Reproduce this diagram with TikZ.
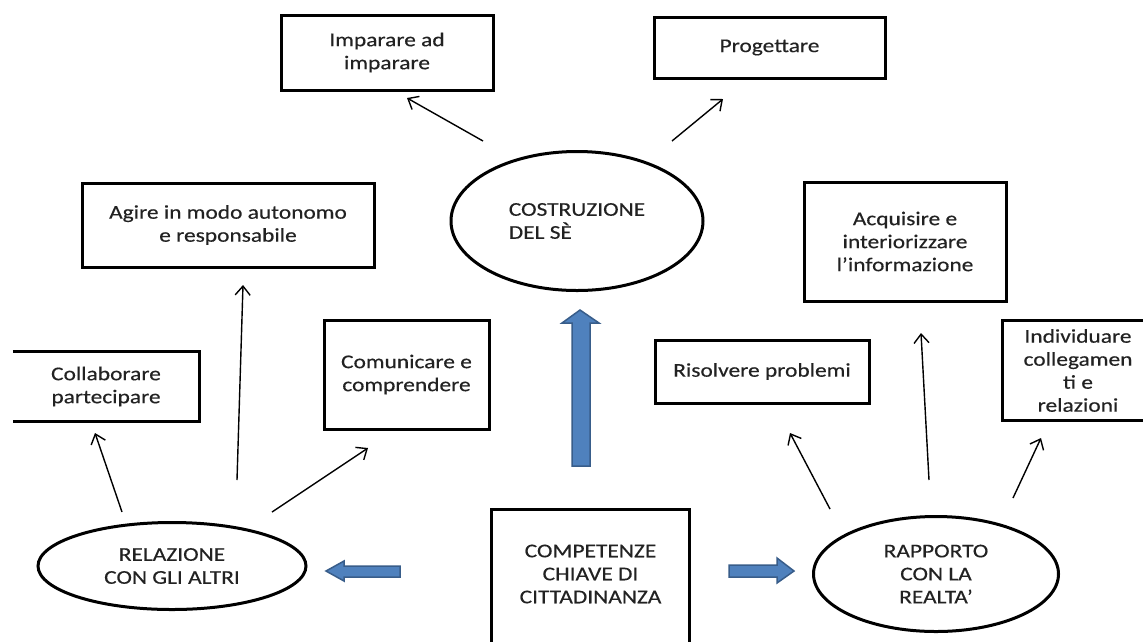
\documentclass[tikz,border=0pt]{standalone}
\usepackage{fontspec}
\setmainfont{Carlito}[FakeStretch=1.2,FakeBold=0.35]
\usetikzlibrary{arrows.meta,shapes.geometric}
\definecolor{blockfill}{HTML}{4F81BD}
\definecolor{blockline}{HTML}{385D8A}
\definecolor{ink}{HTML}{222222}
\tikzset{
  box/.style={draw=black, line width=3pt, rectangle, align=center, inner sep=0pt, text=ink},
  openbox/.style={draw=none, rectangle, align=center, inner sep=0pt, text=ink},
  oval/.style={draw=black, line width=3pt, ellipse, align=center, inner sep=0pt, text=ink},
  edge3/.style={line width=3pt, line join=miter},
  conn/.style={line width=1.4pt, -{Straight Barb[length=9pt,width=15pt,line width=1.4pt]}},
  block/.style={fill=blockfill, draw=blockline, line width=1.5pt, line join=miter}
}
\begin{document}
\begin{tikzpicture}[x=1pt,y=-1pt,font=\fontsize{19.5}{23}\selectfont]
\fill[white] (0,0) rectangle (1143,641);
\useasboundingbox (0,0) rectangle (1143,641);

% boxes
\node[box, minimum width=212pt, minimum height=75pt] (impar) at (387,52.5) {Imparare ad\\imparare};
\node[box, minimum width=231pt, minimum height=61pt] (prog) at (769.5,47.5) {Progettare};
\node[box, minimum width=292pt, minimum height=84pt] (agire) at (228,225) {Agire in modo autonomo\\e responsabile};
\node[box, minimum width=202pt, minimum height=119pt] (acq) at (905,241.5) {Acquisire e\\interiorizzare\\l’informazione};
\node[openbox, minimum width=186pt, minimum height=69pt] (coll) at (106,386.5) {Collaborare\\partecipare};
\draw[edge3] (coll.north west) -- (coll.north east) -- (coll.south east) -- (coll.south west);
\node[box, minimum width=165pt, minimum height=109pt] (comu) at (406.5,374.5) {Comunicare e\\comprendere};
\node[box, minimum width=214pt, minimum height=63pt] (ris) at (762,371.5) {Risolvere problemi};
\node[openbox, minimum width=150pt, minimum height=99pt] (ind) at (1078,370.5) {Individuare\\collegamen\\ti e\\relazioni};
\draw[edge3] (ind.north east) -- (ind.north west) -- (ind.south west) -- (ind.south east);
\node[openbox, minimum width=197pt, minimum height=128pt] (comp) at (590.5,574) {COMPETENZE\\CHIAVE DI\\CITTADINANZA};
\draw[edge3] (comp.south west) ++(0,20) -- (comp.north west) -- (comp.north east) -- ++(0,150);

% ellipses
\node[oval, minimum width=252pt, minimum height=139pt, align=left] (cost) at (577,221) {COSTRUZIONE\\DEL SÈ};
\node[oval, minimum width=268pt, minimum height=87pt] (rel) at (172,566) {RELAZIONE\\CON GLI ALTRI};
\node[oval, minimum width=245pt, minimum height=115pt] (rapp) at (936,574) {RAPPORTO\\CON LA\\REALTA’};

% thin connectors
\coordinate (s1) at (483,141); \coordinate (e1) at (407,98);
\coordinate (s2) at (672,141); \coordinate (e2) at (723,99);
\coordinate (s3) at (237,480); \coordinate (e3) at (243,285);
\coordinate (s4) at (122,512); \coordinate (e4) at (95,433);
\coordinate (s5) at (272,512); \coordinate (e5) at (368,448);
\coordinate (s6) at (830,509); \coordinate (e6) at (790,433);
\coordinate (s7) at (929,480); \coordinate (e7) at (921,333);
\coordinate (s8) at (1013,498); \coordinate (e8) at (1041,438);
\foreach \i in {1,...,8} {\draw[conn] (s\i) -- (e\i);}

% block arrows
\draw[block] (572,466) -- (572,323) -- (562,323) -- (580,310) -- (599,323) -- (590,323) -- (590,466) -- cycle;
\draw[block] (400,566) -- (344,566) -- (344,561) -- (326,571) -- (344,581) -- (344,577) -- (400,577) -- cycle;
\draw[block] (729,565) -- (777,565) -- (777,558) -- (794,571) -- (777,583) -- (777,577) -- (729,577) -- cycle;
\end{tikzpicture}
\end{document}
